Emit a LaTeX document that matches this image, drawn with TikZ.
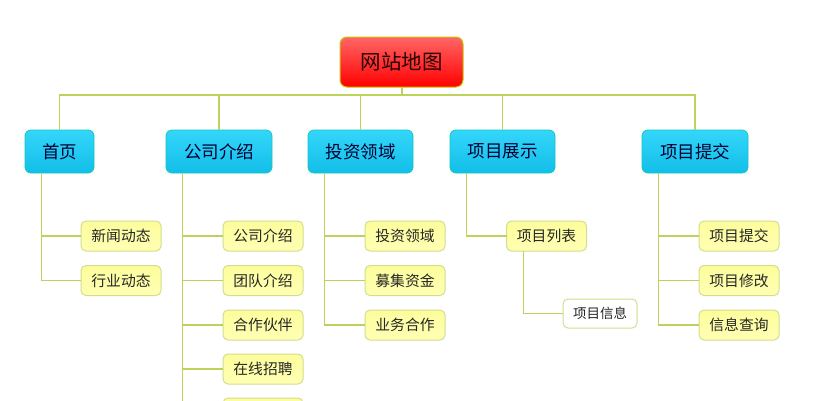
\documentclass[tikz,border=0pt]{standalone}
\usepackage{fontspec}
\setmainfont{Noto Sans CJK SC}
\definecolor{linegreen}{HTML}{BBD35C}
\definecolor{leafedge}{HTML}{D3DE8C}
\definecolor{topictop}{HTML}{34D6FA}
\definecolor{topicbot}{HTML}{12BEE8}
\definecolor{leaftop}{HTML}{FDFD9C}
\definecolor{leafbot}{HTML}{FFFFB4}
\begin{document}
\begin{tikzpicture}[x=1pt,y=-1pt]
	\tikzset{rootbox/.style={draw=orange!60!yellow!80!green,line width=1pt,rounded corners=7pt,minimum width=123pt,minimum height=50pt,inner sep=0pt,outer sep=0pt,top color=red!60,middle color=red,bottom color=red,font=\fontsize{20.5}{20.5}\selectfont,text=black!85!red}}
	\tikzset{topicbox/.style={draw=topicbot!80!green,line width=0.8pt,rounded corners=6pt,minimum height=43pt,inner sep=0pt,outer sep=0pt,top color=topictop,bottom color=topicbot,font=\fontsize{17.5}{17.5}\selectfont,text=black!80!blue}}
	\tikzset{leafbox/.style={draw=leafedge,line width=1pt,rounded corners=5pt,minimum width=80pt,minimum height=30pt,inner sep=0pt,outer sep=0pt,top color=leaftop,bottom color=leafbot,font=\fontsize{14.8}{14.8}\selectfont,text=black!85}}
	\tikzset{infobox/.style={draw=leafedge,line width=1pt,rounded corners=5pt,minimum width=74pt,minimum height=29pt,inner sep=0pt,outer sep=0pt,fill=white,font=\fontsize{13.5}{13.5}\selectfont,text=black!85}}
	\tikzset{branch/.style={draw=linegreen,line width=1.3pt}}
	\clip (0,0) rectangle (821,400);
	\fill[white] (0,0) rectangle (821,400);
	\node[rootbox] (site) at (401.5,62) {网站地图};
	\foreach \name/\cx/\boxw/\txt in {home/59.5/69/首页,about/219/106/公司介绍,invest/360.5/105/投资领域,show/502.5/105/项目展示,submit/695/106/项目提交}
		\node[topicbox,minimum width=\boxw pt] (\name) at (\cx,151.5) {\txt};
	\foreach \name/\cx/\cy/\txt in {news/121/236/新闻动态,trade/121/280.5/行业动态,
		intro/263/236/公司介绍,team/263/280.5/团队介绍,partner/263/325/合作伙伴,jobs/263/369/在线招聘,more/263/413/{},
		field/405/236/投资领域,funds/405/280.5/募集资金,biz/405/325/业务合作,
		list/546.5/236/项目列表,
		send/739/236/项目提交,edit/739/280.5/项目修改,query/739/325/信息查询}
		\node[leafbox] (\name) at (\cx,\cy) {\txt};
	\node[infobox] (info) at (600,313.5) {项目信息};
	\coordinate (bus) at (402,95);
	\draw[branch] (site.south -| bus) -- (bus);
	\foreach \name in {home,about,invest,show,submit}
		\draw[branch] (bus) -| (\name.north);
	\foreach \parent/\kid in {home/news,home/trade,about/intro,about/team,about/partner,about/jobs,about/more,invest/field,invest/funds,invest/biz,show/list,submit/send,submit/edit,submit/query}
		\draw[branch] ([xshift=16.5pt]\parent.south west) |- (\kid.west);
	\draw[branch] ([xshift=17pt]list.south west) |- (info.west);
\end{tikzpicture}
\end{document}
